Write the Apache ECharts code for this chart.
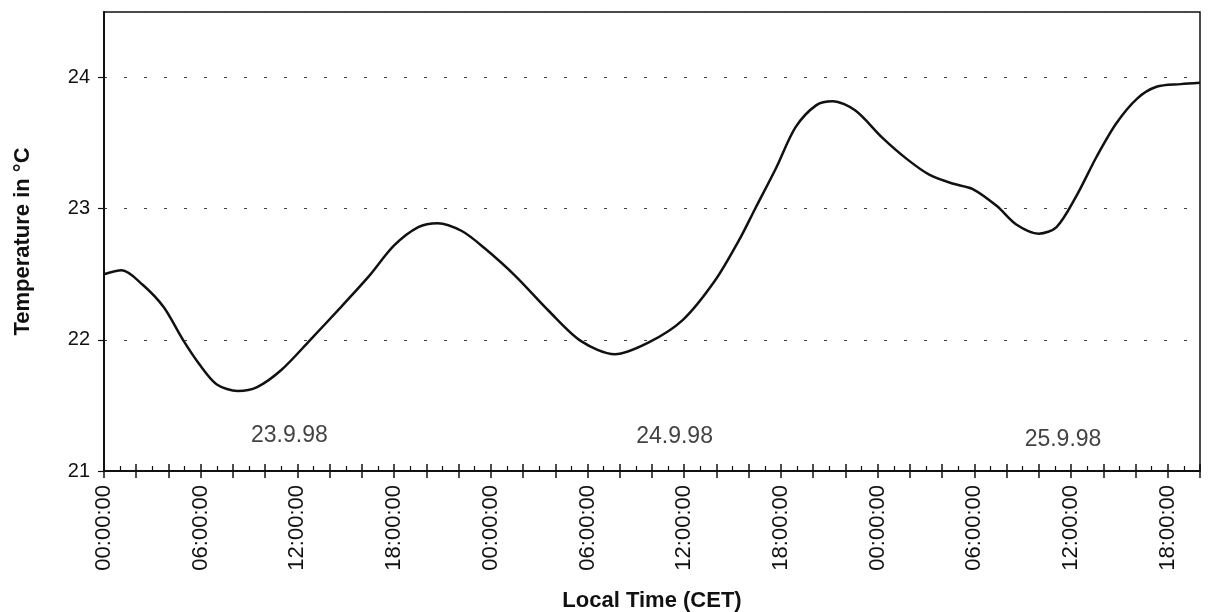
<!DOCTYPE html>
<html>
<head>
<meta charset="utf-8">
<script src="https://cdn.jsdelivr.net/npm/echarts@6/dist/echarts.min.js"></script>
<style>
html,body{margin:0;padding:0;background:#fff;}
#chart{width:1208px;height:612px;}
</style>
</head>
<body>
<div id="chart"></div>
<script>
// hours since 23.9.98 00:00 CET
var hours = [0,1.1,2.4,3.7,4.9,6.0,7.0,8.3,9.5,11.0,12.8,14.7,16.4,18.0,19.5,20.7,22.2,23.6,25.5,27.6,29.6,31.7,33.8,35.9,37.9,39.4,40.4,41.7,42.9,44.2,45.2,46.6,48.3,49.8,51.2,52.7,53.9,55.4,56.6,58.0,59.1,60.3,61.6,62.8,64.1,65.3,66.8,68];
var temps = [22.50,22.53,22.42,22.25,22.00,21.80,21.66,21.61,21.64,21.77,22.00,22.25,22.48,22.72,22.86,22.89,22.83,22.70,22.49,22.22,21.99,21.89,21.98,22.15,22.45,22.76,23.00,23.31,23.62,23.79,23.82,23.75,23.54,23.38,23.26,23.19,23.15,23.02,22.88,22.81,22.86,23.09,23.40,23.65,23.84,23.93,23.95,23.96];

var dayNames = ['23.9.98','24.9.98','25.9.98'];
var dayHours = [11.5,35.4,59.5];
var dayTemps = [21.27,21.26,21.24];

var font = "'Liberation Sans', Arial, sans-serif";

var line = [];
for(var i=0;i<hours.length;i++){
    line.push([hours[i],temps[i]]);
}
var days = [];
for(var j=0;j<dayNames.length;j++){
    days.push([dayHours[j],dayTemps[j],dayNames[j]]);
}

var chart = echarts.init(document.getElementById('chart'));

function hiddenX(inside, len, minor){
    return {
        type:'value', position:'bottom', min:0, max:68, interval:2,
        axisLine:{show:false},
        axisLabel:{show:false},
        splitLine:{show:false},
        axisTick:{show:true, inside:inside, length:len, lineStyle:{color:'#111', width:1.5}},
        minorTick:{show:minor, splitNumber:2, length:5, lineStyle:{color:'#111', width:1.2}}
    };
}

var option = {
    backgroundColor:'#fff',
    animation:false,
    grid:{left:104, right:8, top:12, bottom:141, outerBoundsMode:'none', show:true, borderColor:'#111', borderWidth:1.5},
    xAxis:[
        {
            type:'value', position:'bottom', min:0, max:68, interval:6,
            name:'Local Time (CET)', nameLocation:'middle', nameGap:119,
            nameTextStyle:{fontFamily:font, fontSize:22, fontWeight:'bold', color:'#111'},
            axisLine:{show:true, lineStyle:{color:'#111', width:2}},
            axisTick:{show:false},
            splitLine:{show:false},
            axisLabel:{
                rotate:90, margin:14, fontFamily:font, fontSize:22, color:'#111',
                showMaxLabel:false,
                formatter:function(v){
                    var h = v % 24;
                    return (h<10?'0':'')+h+':00:00';
                }
            }
        },
        hiddenX(false,7,false),
        hiddenX(true,7,true)
    ],
    yAxis:{
        type:'value', min:21, max:24.5, interval:1,
        name:'Temperature in °C', nameLocation:'middle', nameGap:70,
        nameTextStyle:{fontFamily:font, fontSize:22, fontWeight:'bold', color:'#111'},
        axisLine:{show:true, lineStyle:{color:'#111', width:2}},
        axisTick:{show:true, length:6, lineStyle:{color:'#111', width:1.2}},
        axisLabel:{fontFamily:font, fontSize:20, color:'#111', margin:14, showMaxLabel:false},
        splitLine:{show:true, lineStyle:{color:'#444', width:1.2, type:[3,17]}}
    },
    series:[
        {
            type:'line',
            xAxisIndex:0,
            data:line,
            smooth:0.3,
            showSymbol:false,
            lineStyle:{color:'#111', width:2.5}
        },
        {
            type:'scatter',
            xAxisIndex:0,
            data:days,
            symbolSize:0,
            label:{
                show:true, position:'inside',
                fontFamily:font, fontSize:23, color:'#111',
                formatter:function(p){ return p.value[2]; }
            }
        }
    ]
};
chart.setOption(option);
window.onresize = chart.resize;
</script>
</body>
</html>
